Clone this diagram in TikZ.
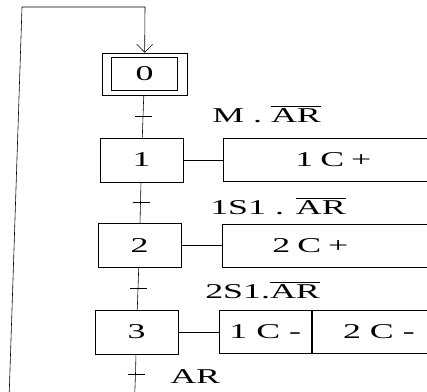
\documentclass[tikz,border=0pt]{standalone}
\usepackage{fontspec}
\setmainfont{Liberation Serif}[FakeStretch=1.7]
\usetikzlibrary{arrows.meta}

\begin{document}
\begin{tikzpicture}[x=0.03cm,y=-0.03cm,line width=0.5pt,
font=\fontsize{18}{22}\selectfont,
etape/.style={draw,minimum width=2.49cm,minimum height=1.32cm,inner sep=0pt},
actbox/.style={draw,minimum height=1.3cm,inner sep=0pt,anchor=west},
recept/.style={anchor=base west,inner sep=0pt}]
\useasboundingbox(0,0)rectangle(427,391);
\clip(0,0)rectangle(427,391);
\node[etape,minimum width=2.55cm,minimum height=1.26cm](s0)at(144.5,74){};
\node[draw,minimum width=1.98cm,minimum height=0.99cm](s0i)at(s0){0};
\node[etape](s1)at(141.5,160){1};
\node[etape](s2)at(139.5,245.5){2};
\node[etape](s3)at(136.5,332){3};
\node[actbox,text width=6cm,align=left,inner xsep=2.16cm](a1)at(223,160){1 C +};
\node[actbox,text width=6cm,align=left,inner xsep=1.5cm](a2)at(222,245.5){2 C +};
\node[actbox,minimum width=2.76cm](a3a)at(219,332){1 C -};
\node[actbox,minimum width=4.02cm](a3b)at(a3a.east){2 C -};
\draw(s0)--coordinate[pos=.5](t1)(s1);
\draw(s1)--coordinate[pos=.5](t2)(s2);
\draw(s2)--coordinate[pos=.5](t3)(s3);
\draw(s1)--(a1);
\draw(s2)--(a2);
\draw(s3)--(a3a);
\coordinate(t4)at(135.5,374);
\coordinate(b1)at(134.5,400);
\coordinate(b2)at(9,400);
\coordinate(h1)at(22,7);
\coordinate(h2)at(145,7);
\draw[-{Straight Barb[length=0.24cm,width=0.48cm]}](s3)--(t4)--(b1)--(b2)--(h1)--(h2)--(s0);
\foreach \t in {t1,t2,t3,t4}
\draw(\t)+(-8,0)--+(9,0);
\node[recept](r1)at(212,122){M . $\overline{\mbox{AR}}$};
\node[recept](r2)at(210,214){1S1 . $\overline{\mbox{AR}}$};
\node[recept](r3)at(205,298){2S1.$\overline{\mbox{AR}}$};
\node[recept](r4)at(170,383){AR};
\end{tikzpicture}
\end{document}
